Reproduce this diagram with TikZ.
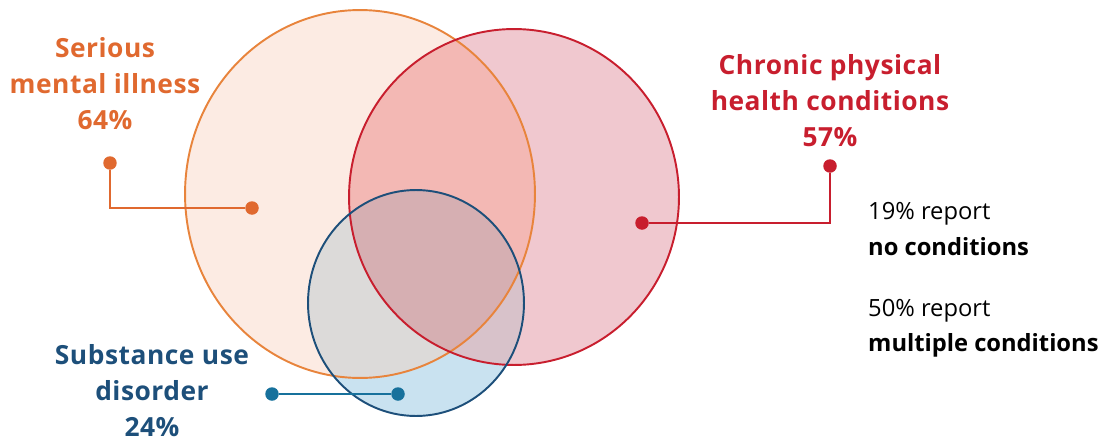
\documentclass[tikz,border=0pt]{standalone}
\usepackage{fontspec}
\setmainfont{Open Sans}
\usetikzlibrary{positioning}
\definecolor{smi}{HTML}{E0692F}
\definecolor{smiring}{HTML}{E8843C}
\definecolor{smifill}{HTML}{FCEBE3}
\definecolor{cphc}{HTML}{C81E2E}
\definecolor{cphcfill}{HTML}{F0C8CF}
\definecolor{sud}{HTML}{1D4F7A}
\definecolor{suddot}{HTML}{17719C}
\definecolor{sudfill}{HTML}{C9E2F0}
\definecolor{smicphc}{HTML}{F3B8B4}
\definecolor{smisud}{HTML}{DCDAD9}
\definecolor{cphcsud}{HTML}{D8C2CA}
\definecolor{allthree}{HTML}{D6AFB2}

\newcommand{\smiCircle}{(360,194) ellipse [x radius=3.5cm, y radius=3.68cm]}
\newcommand{\cphcCircle}{(514,197) ellipse [x radius=3.3cm, y radius=3.36cm]}
\newcommand{\sudCircle}{(416,303) ellipse [x radius=2.16cm, y radius=2.26cm]}

\begin{document}
\begin{tikzpicture}[x=0.02cm,y=-0.02cm,
  grouplabel/.style={font=\bfseries\fontsize{15}{20.5}\selectfont\addfontfeatures{LetterSpace=2}, align=center},
  note/.style={font=\fontsize{13.5}{20}\selectfont, align=left, anchor=west},
  dot/.style={circle, fill, inner sep=0pt, minimum size=0.27cm},
  lead/.style={line width=1.1pt},
  ring/.style={line width=1.1pt}]
  \useasboundingbox (0,0) rectangle (1106,443);

  % Circles and their overlaps
  \fill[smifill] \smiCircle;
  \fill[cphcfill] \cphcCircle;
  \fill[sudfill] \sudCircle;
  \begin{scope}
    \clip \smiCircle;
    \fill[smicphc] \cphcCircle;
    \fill[smisud] \sudCircle;
  \end{scope}
  \begin{scope}
    \clip \cphcCircle;
    \fill[cphcsud] \sudCircle;
    \clip \smiCircle;
    \fill[allthree] \sudCircle;
  \end{scope}
  \draw[ring, smiring] \smiCircle;
  \draw[ring, cphc] \cphcCircle;
  \draw[ring, sud] \sudCircle;

  % Labels
  \node[grouplabel, text=smi] (smiLabel) at (105,84) {Serious\\mental illness\\64\%};
  \node[grouplabel, text=cphc] (cphcLabel) at (830,101) {Chronic physical\\health conditions\\57\%};
  \node[grouplabel, text=sud] (sudLabel) at (152,391) {Substance use\\disorder\\24\%};

  % Leader dots
  \node[dot, smi] (smiTop) at (110,163) {};
  \node[dot, smi] (smiIn) at (252,208) {};
  \node[dot, cphc] (cphcTop) at (830,166) {};
  \node[dot, cphc] (cphcIn) at (642,223) {};
  \node[dot, suddot] (sudOut) at (272,394) {};
  \node[dot, suddot] (sudIn) at (398,394) {};

  \draw[lead, smi] (smiTop) |- (smiIn);
  \draw[lead, cphc] (cphcTop) |- (cphcIn);
  \draw[lead, suddot] (sudOut) -- (sudIn);

  % Notes
  \node[note] (noneNote) at (862,229) {19\% report\\\textbf{no conditions}};
  \node[note] (multiNote) at (862,328) {50\% report\\\textbf{multiple conditions}};
\end{tikzpicture}
\end{document}
